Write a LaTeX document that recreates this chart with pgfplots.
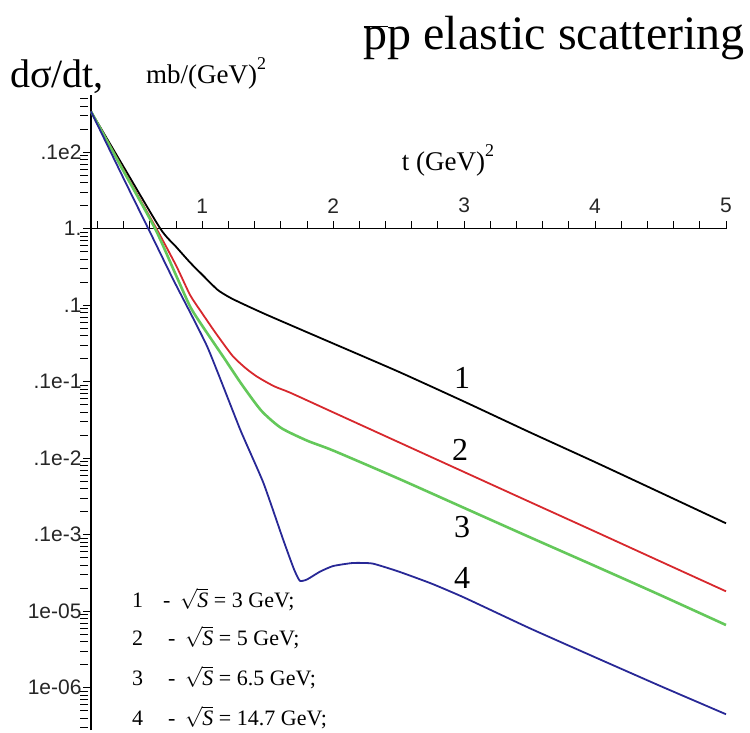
\documentclass[border=0pt]{standalone}
\usepackage{fontspec}
\setmainfont{Liberation Serif}
\newfontfamily\sans{Liberation Sans}
\usepackage{pgfplots}
\pgfplotsset{compat=1.18}
\definecolor{cred}{RGB}{215,40,45}
\definecolor{cgreen}{RGB}{100,200,90}
\definecolor{cblue}{RGB}{40,40,150}
\begin{document}
\begin{tikzpicture}[x=1pt,y=1pt]
\path[use as bounding box] (0,0) rectangle (750,732);
\begin{axis}[
  at={(91pt,2pt)}, anchor=south west,
  scale only axis, width=635pt, height=635pt,
  xmin=0.15, xmax=5, ymode=log, ymin=2.8e-7, ymax=56,
  axis x line=middle, axis y line=left,
  axis line style={-, line width=1.2pt},
  xtick={1,2,3,4,5}, xticklabels={1,2,3,4,5},
  minor xtick={0.2,0.4,0.6,0.8,1.2,1.4,1.6,1.8,2.2,2.4,2.6,2.8,3.2,3.4,3.6,3.8,4.2,4.4,4.6,4.8},
  ytick={10,1,0.1,0.01,0.001,1e-4,1e-5,1e-6},
  yticklabels={.1e2,1.,.1,.1e-1,.1e-2,.1e-3,1e-05,1e-06},
  minor ytick={2e-7,3e-7,4e-7,5e-7,6e-7,7e-7,8e-7,9e-7,
    2e-6,3e-6,4e-6,5e-6,6e-6,7e-6,8e-6,9e-6,
    2e-5,3e-5,4e-5,5e-5,6e-5,7e-5,8e-5,9e-5,
    2e-4,3e-4,4e-4,5e-4,6e-4,7e-4,8e-4,9e-4,
    2e-3,3e-3,4e-3,5e-3,6e-3,7e-3,8e-3,9e-3,
    2e-2,3e-2,4e-2,5e-2,6e-2,7e-2,8e-2,9e-2,
    0.2,0.3,0.4,0.5,0.6,0.7,0.8,0.9,
    2,3,4,5,6,7,8,9,20,30,40,50},
  tick align=center,
  major tick length=8pt, minor tick length=8pt,
  x tick style={yshift=4pt, line width=1pt, black},
  y tick style={xshift=-4pt, line width=0.9pt, black},
  minor y tick style={xshift=-3pt},
  ticklabel style={font=\sans\fontsize{21}{21}\selectfont, text=black!85},
  x tick label style={anchor=south, yshift=16pt},
  y tick label style={anchor=east, xshift=-2pt},
  clip=false,
]
\addplot[black, line width=1.8pt, smooth, tension=0.4] coordinates {
 (0.15,34.1) (0.40,6.4) (0.68,1.0) (0.80,0.58) (0.908,0.36) (1.0,0.25)
 (1.115,0.160) (1.2,0.129) (1.29,0.108) (1.5,0.074) (2.0,0.0316) (2.5,0.0135)
 (3.0,0.0055) (3.5,0.00219) (4.0,8.9e-4) (4.5,3.55e-4) (5.0,1.41e-4)};
\addplot[cred, line width=1.8pt, smooth, tension=0.4] coordinates {
 (0.15,34.1) (0.40,5.8) (0.65,1.0) (0.8,0.33) (0.908,0.135) (1.0,0.078)
 (1.084,0.048) (1.16,0.0316) (1.237,0.0212) (1.33,0.0151) (1.42,0.0116)
 (1.55,0.0087) (1.672,0.00718) (2.0,0.00398) (2.5,0.00162) (3.0,6.6e-4)
 (3.5,2.69e-4) (4.0,1.10e-4) (4.5,4.47e-5) (5.0,1.82e-5)};
\addplot[cgreen, line width=2.6pt, smooth, tension=0.4] coordinates {
 (0.15,34.1) (0.40,5.6) (0.64,1.0) (0.8,0.245) (0.908,0.0955) (1.0,0.0537)
 (1.16,0.0212) (1.3,0.0093) (1.45,0.0042) (1.6,0.0025) (1.8,0.0017)
 (2.0,0.00126) (2.5,5.4e-4) (3.0,2.24e-4) (3.5,9.3e-5) (4.0,3.9e-5)
 (4.5,1.62e-5) (5.0,6.6e-6)};
\addplot[cblue, line width=1.8pt, smooth, tension=0.3] coordinates {
 (0.15,34.1) (0.40,4.5) (0.588,1.0) (0.779,0.215) (1.038,0.0287)
 (1.29,0.00236) (1.466,4.8e-4) (1.618,8.6e-5) (1.70,3.55e-5) (1.745,2.5e-5)
 (1.80,2.6e-5) (1.9,3.3e-5) (2.0,3.9e-5) (2.15,4.27e-5) (2.3,4.2e-5)
 (2.5,3.3e-5) (2.75,2.3e-5) (3.0,1.51e-5) (3.5,6.0e-6) (4.0,2.5e-6)
 (4.5,1.05e-6) (5.0,4.5e-7)};
\end{axis}
% titles and labels (1pt = 1px of reference)
\node[anchor=base east, inner sep=0pt, font=\fontsize{48}{48}\selectfont] at (745,682)
  {$\overline{\mbox{p}}$p elastic scattering};
\node[anchor=base west, inner sep=0pt, font=\fontsize{40}{40}\selectfont] at (10,644) {dσ/dt,};
\node[anchor=base west, inner sep=0pt, font=\fontsize{27}{27}\selectfont] at (146,648)
  {mb/(GeV)\raisebox{14pt}{\fontsize{18}{18}\selectfont 2}};
\node[anchor=base, inner sep=0pt, font=\fontsize{27}{27}\selectfont] at (448,561)
  {t (GeV)\raisebox{14pt}{\fontsize{18}{18}\selectfont 2}};
\begin{scope}[every node/.style={inner sep=0pt, font=\fontsize{32}{32}\selectfont}]
\node at (462,354) {1};
\node at (460,282) {2};
\node at (462,205) {3};
\node at (462,154) {4};
\end{scope}
\begin{scope}[every node/.style={anchor=base west, inner sep=0pt, font=\fontsize{22}{22}\selectfont}]
\node at (132,125) {1};
\node at (163,125) {-};
\node at (180,125) {$\sqrt{\textit{S}}$ = 3 GeV;};
\node at (132,87) {2};
\node at (168,87) {-};
\node at (185,87) {$\sqrt{\textit{S}}$ = 5 GeV;};
\node at (132,47) {3};
\node at (168,47) {-};
\node at (185,47) {$\sqrt{\textit{S}}$ = 6.5 GeV;};
\node at (132,7) {4};
\node at (168,7) {-};
\node at (185,7) {$\sqrt{\textit{S}}$ = 14.7 GeV;};
\end{scope}
\end{tikzpicture}
\end{document}
